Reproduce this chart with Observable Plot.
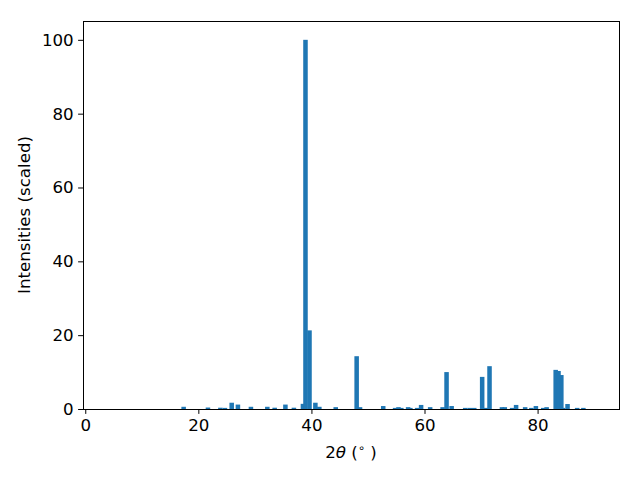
<!DOCTYPE html>
<html>
<head>
<meta charset="utf-8">
<script src="https://cdn.jsdelivr.net/npm/d3@7"></script>
<script src="https://cdn.jsdelivr.net/npm/@observablehq/plot@0.6"></script>
<style>
  html, body { margin: 0; padding: 0; background: #fff; }
  svg { display: block; }
</style>
</head>
<body>
<div id="chart"></div>
<script>
const twoTheta = [17.4, 21.7, 23.9, 24.7, 25.9, 27.0, 29.3, 32.2, 33.5, 35.4, 36.9, 38.5, 38.95, 39.66, 40.7, 41.4, 44.3, 48.0, 48.6, 52.7, 54.8, 55.4, 55.9, 57.1, 57.5, 58.7, 59.4, 61.0, 63.2, 63.9, 64.8, 67.2, 68.0, 68.8, 70.2, 70.9, 71.5, 73.7, 74.2, 75.5, 76.2, 77.8, 78.9, 79.7, 81.0, 81.6, 83.2, 83.7, 84.2, 84.5, 85.3, 87.0, 88.1];
const intensity = [0.6, 0.4, 0.35, 0.3, 1.7, 1.2, 0.6, 0.6, 0.35, 1.2, 0.35, 1.4, 100, 21.3, 1.7, 0.6, 0.5, 14.3, 0.5, 0.8, 0.3, 0.5, 0.3, 0.5, 0.3, 0.3, 1.1, 0.5, 0.5, 10.0, 0.8, 0.3, 0.3, 0.3, 8.7, 0.3, 11.6, 0.5, 0.5, 0.3, 1.1, 0.5, 0.3, 0.8, 0.3, 0.5, 10.6, 10.3, 9.2, 0.3, 1.35, 0.3, 0.3];
const xTicks = [0, 20, 40, 60, 80];
const yTicks = [0, 20, 40, 60, 80, 100];
const barWidth = 0.8;

const data = twoTheta.map((x, i) => ({x, y: intensity[i]}));
const font = "DejaVu Sans, sans-serif";
const fs = 16.67;

const chart = Plot.plot({
  width: 640,
  height: 480,
  marginLeft: 83,
  marginRight: 21,
  marginTop: 21,
  marginBottom: 71,
  style: {fontFamily: font, fontSize: fs + "px", color: "#000", background: "#fff"},
  x: {domain: [-0.4, 94.4], label: null},
  y: {domain: [0, 105.1], label: null},
  marks: [
    Plot.rectY(data, {x1: d => d.x - barWidth / 2, x2: d => d.x + barWidth / 2, y: "y", fill: "#1f77b4", insetLeft: 0, insetRight: 0}),
    Plot.frame({stroke: "#000", strokeWidth: 1}),
    Plot.axisX({ticks: xTicks, tickSize: 4.9, tickPadding: 4.9, fontSize: fs, label: null, stroke: "#000"}),
    Plot.axisY({ticks: yTicks, tickSize: 4.9, tickPadding: 4.9, fontSize: fs, label: null, stroke: "#000"})
  ]
});

document.getElementById("chart").append(chart);

const svg = d3.select(chart);
// x label: 2θ (°)
const xl = svg.append("text")
  .attr("x", 83 + (619 - 83) / 2)
  .attr("y", 458)
  .attr("text-anchor", "middle")
  .attr("font-family", font)
  .attr("font-size", fs)
  .attr("fill", "#000");
xl.append("tspan").text("2");
xl.append("tspan").attr("font-style", "italic").text("θ");
xl.append("tspan").text(" (");
xl.append("tspan").attr("font-size", 11.5).attr("dy", -6).text("∘");
xl.append("tspan").attr("dy", 6).text(" )");

// y label
svg.append("text")
  .attr("transform", "translate(30,215) rotate(-90)")
  .attr("text-anchor", "middle")
  .attr("font-family", font)
  .attr("font-size", fs)
  .attr("fill", "#000")
  .text("Intensities (scaled)");
</script>
</body>
</html>
